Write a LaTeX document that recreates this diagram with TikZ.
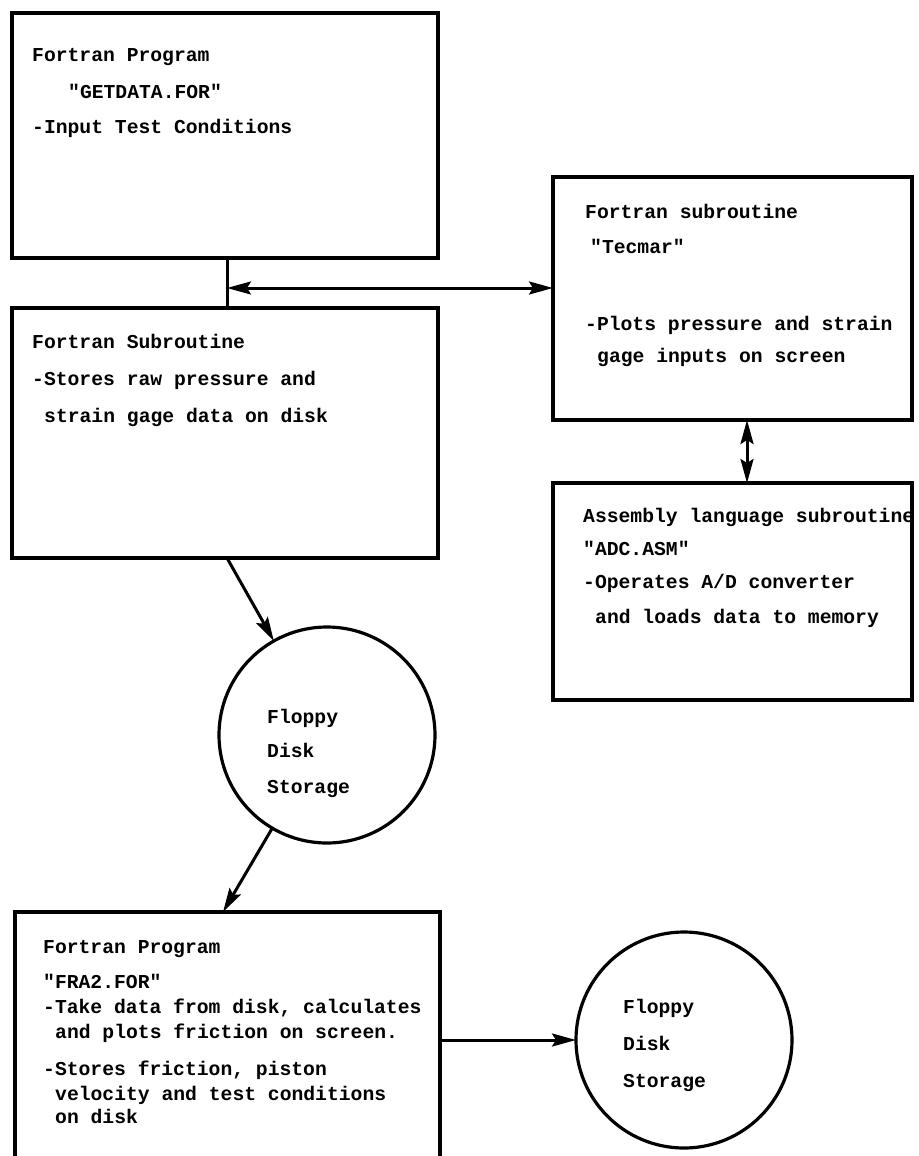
\documentclass[tikz,border=0pt]{standalone}
\usepackage{fontspec}
\setmonofont{Liberation Mono}
\usetikzlibrary{arrows.meta}
\tikzset{
  box/.style={draw, line width=3.6pt, rectangle, inner sep=0pt, outer sep=0pt, anchor=north west},
  disk/.style={draw, circle, line width=3.2pt, inner sep=0pt, outer sep=0pt, minimum size=216pt},
  txt/.style={anchor=base west, inner sep=0pt, font=\ttfamily\bfseries\fontsize{19.7}{24}\selectfont},
  conn/.style={line width=3pt},
  tip/.style={},
  arr/.style={conn, -{Stealth[length=24pt,width=13pt,inset=4pt]}},
  darr/.style={conn, {Stealth[length=24pt,width=13pt,inset=4pt]}-{Stealth[length=24pt,width=13pt,inset=4pt]}},
}
\begin{document}
\begin{tikzpicture}[x=1pt,y=-1pt]
\useasboundingbox (0,0) rectangle (918,1156);
% boxes
\node[box, minimum width=426pt, minimum height=245pt] (b1) at (12,13) {};
\node[box, minimum width=426pt, minimum height=250pt] (b2) at (12,308) {};
\node[box, minimum width=359pt, minimum height=243pt] (tec) at (553,177) {};
\node[box, minimum width=359pt, minimum height=217pt] (asm) at (553,483) {};
\node[box, draw=none, minimum width=425pt, minimum height=244pt] (b3) at (15,912) {};
\draw[line width=3.6pt] (b3.south west) -- (b3.north west) -- (b3.north east) -- (b3.south east);
% disks
\node[disk] (c1) at (327,735) {};
\node[disk] (c2) at (684,1040) {};
% connectors
\coordinate (j) at (227,288);
\coordinate (k) at (747,450);
\coordinate (m) at (223,912);
\draw[conn] (j |- b1.south) -- (j |- b2.north);
\draw[darr] (j) -- (j -| tec.west);
\draw[darr] (k |- tec.south) -- (k |- asm.north);
\draw[arr] (j |- b2.south) -- (c1);
\draw[arr] (c1) -- (m |- b3.north);
\draw[arr] (b3.east |- c2.west) -- (c2.west);
% texts box 1
\node[txt] (t1a) at (32,62) {Fortran Program};
\node[txt] (t1b) at (68,98) {"GETDATA.FOR"};
\node[txt] (t1c) at (32,133) {-Input Test Conditions};
% texts box 2
\node[txt] (t2a) at (32,348) {Fortran Subroutine};
\node[txt] (t2b) at (32,385) {-Stores raw pressure and};
\node[txt] (t2c) at (44,422) {strain gage data on disk};
% texts Tecmar
\node[txt] (t3a) at (585,218) {Fortran subroutine};
\node[txt] (t3b) at (590,253) {"Tecmar"};
\node[txt] (t3c) at (585,330) {-Plots pressure and strain};
\node[txt] (t3d) at (597,362) {gage inputs on screen};
% texts assembly
\node[txt] (t4a) at (583,522) {Assembly language subroutine};
\node[txt] (t4b) at (583,555) {"ADC.ASM"};
\node[txt] (t4c) at (583,588) {-Operates A/D converter};
\node[txt] (t4d) at (595,623) {and loads data to memory};
% texts disk 1
\node[txt] (t5a) at (267,723) {Floppy};
\node[txt] (t5b) at (267,757) {Disk};
\node[txt] (t5c) at (267,793) {Storage};
% texts box 3
\node[txt] (t6a) at (43,953) {Fortran Program};
\node[txt] (t6b) at (43,988) {"FRA2.FOR"};
\node[txt] (t6c) at (43,1013) {-Take data from disk, calculates};
\node[txt] (t6d) at (55,1038) {and plots friction on screen.};
\node[txt] (t6e) at (43,1075) {-Stores friction, piston};
\node[txt] (t6f) at (55,1100) {velocity and test conditions};
\node[txt] (t6g) at (55,1123) {on disk};
% texts disk 2
\node[txt] (t7a) at (623,1013) {Floppy};
\node[txt] (t7b) at (623,1050) {Disk};
\node[txt] (t7c) at (623,1087) {Storage};
\end{tikzpicture}
\end{document}
